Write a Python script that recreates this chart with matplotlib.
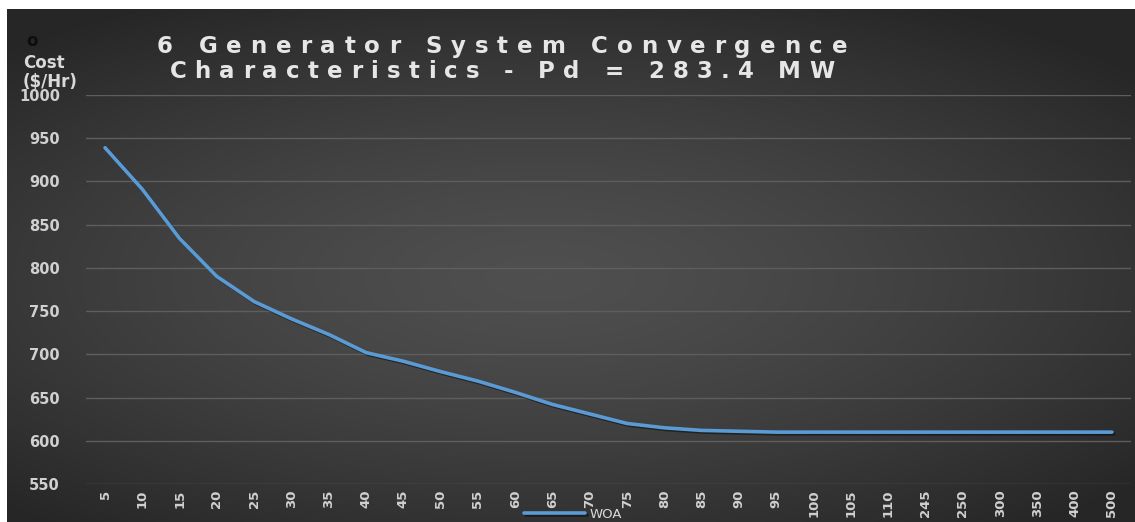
import numpy as np
import matplotlib
matplotlib.use("Agg")
import matplotlib.pyplot as plt
import matplotlib.patheffects as pe

# iteration count (categories) and best cost found by WOA
iterations = ["5", "10", "15", "20", "25", "30", "35", "40", "45", "50",
              "55", "60", "65", "70", "75", "80", "85", "90", "95", "100",
              "105", "110", "245", "250", "300", "350", "400", "500"]
woa_cost = [939, 891, 834, 790, 761, 741, 723, 702, 692, 680,
            669, 656, 642, 631, 620, 615, 612, 611, 610, 610,
            610, 610, 610, 610, 610, 610, 610, 610]
y_ticks = [550, 600, 650, 700, 750, 800, 850, 900, 950, 1000]

title_lines = ["6 Generator System Convergence",
               "Characteristics - Pd = 283.4 MW"]

W, H = 1135, 522
fig = plt.figure(figsize=(W / 100, H / 100), dpi=100, facecolor="white")

# dark chart area with a soft radial gradient
bg = fig.add_axes([7 / W, 0, (W - 7) / W, (H - 9) / H], zorder=0)
gx, gy = np.meshgrid(np.linspace(-1, 1, 400), np.linspace(-1, 1, 200))
r = np.sqrt(((gx + 0.05) / 1.15) ** 2 + ((gy - 0.05) / 1.0) ** 2)
shade = np.clip(0.31 - 0.12 * r ** 1.4, 0.15, 1)
bg.imshow(np.dstack([shade] * 3), aspect="auto", extent=[0, 1, 0, 1],
          interpolation="bilinear")
bg.set_axis_off()

ax = fig.add_axes([86.4 / W, 38 / H, (1130.6 - 86.4) / W, (484 - 95) / H], zorder=1)
ax.set_facecolor("none")

x = np.arange(len(iterations))
ax.plot(x, woa_cost, color="#5b9bd5", lw=2.6, solid_capstyle="round",
        label="WOA",
        path_effects=[pe.SimpleLineShadow(offset=(1.2, -1.2), shadow_color="black", alpha=0.45),
                      pe.Normal()])

ax.set_xlim(-0.5, len(iterations) - 0.5)
ax.set_ylim(550, 1000)
ax.set_yticks(y_ticks)
ax.set_xticks(x)
ax.set_xticklabels(iterations, rotation=90)
ax.grid(axis="y", color="#5e5e5e", lw=1.0)
ax.set_axisbelow(True)
for s in ax.spines.values():
    s.set_visible(False)
ax.tick_params(axis="both", length=0, colors="#d9d9d9")
ax.tick_params(axis="y", pad=19, labelsize=10.5)
ax.tick_params(axis="x", pad=4, labelsize=9.5)
for lbl in ax.get_xticklabels() + ax.get_yticklabels():
    lbl.set_fontweight("bold")
    lbl.set_color("#d0d0d0")

# axis title and stray marker in the corner
fig.text(23 / W, 1 - 87 / H, "Cost\n($/Hr)", color="#d9d9d9", fontsize=12,
         fontweight="bold", ha="left", va="baseline", linespacing=1.05)
fig.text(26 / W, 1 - 46 / H, "o", color="#0d0d0d", fontsize=12, fontweight="bold",
         ha="left", va="baseline")

# letter-spaced title, one glyph at a time
renderer = fig.canvas.get_renderer()


def text_width(s, size):
    t = fig.text(0, 0, s + "|", fontsize=size, fontweight="bold")
    w = t.get_window_extent(renderer).width
    t.remove()
    return w


def spaced_title(s, xc, base_y, size, width):
    bar = text_width("", size)
    adv = [text_width(s[:i], size) - bar for i in range(len(s) + 1)]
    track = (width - adv[-1]) / (len(s) - 1)
    x0 = xc - width / 2
    for i, ch in enumerate(s):
        if ch == " ":
            continue
        fig.text((x0 + adv[i] + track * i) / W, (H - base_y) / H, ch,
                 fontsize=size, fontweight="bold", color="#e6e6e6",
                 ha="left", va="baseline")


spaced_title(title_lines[0], 502, 53, 16.5, 690)
spaced_title(title_lines[1], 502, 78, 16.5, 665)

leg = fig.legend(loc="center", bbox_to_anchor=(573 / W, 8 / H), frameon=False,
                 handlelength=4.6, handletextpad=0.3, fontsize=9.5)
for t in leg.get_texts():
    t.set_color("#d9d9d9")

fig.savefig("out.png", dpi=100, facecolor="white")
